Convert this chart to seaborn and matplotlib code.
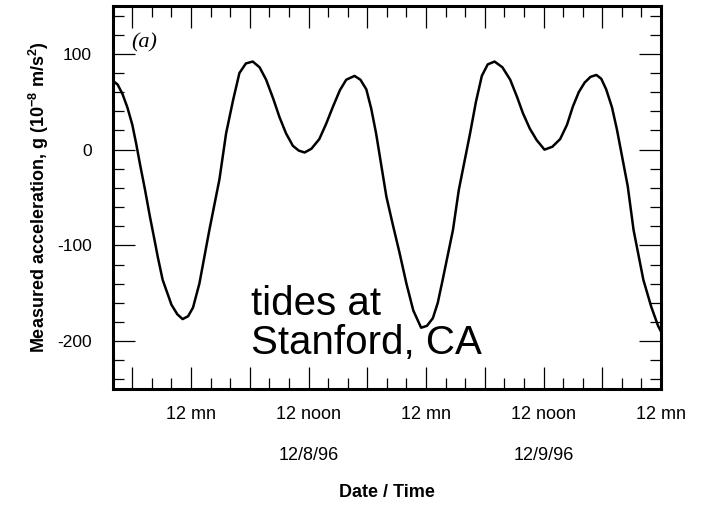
import numpy as np
import pandas as pd
import matplotlib
matplotlib.use('Agg')
import matplotlib.pyplot as plt
import matplotlib.transforms as mtransforms
from matplotlib.ticker import MultipleLocator, FixedLocator
import seaborn as sns

# hours after 12 mn on 12/8/96
hours = [-8.0, -7.5, -7.0, -6.5, -6.0, -5.6, -5.2, -4.7, -4.2, -3.7, -3.4, -2.9, -2.0, -1.4,
         -0.86, -0.3, 0.2, 0.85, 1.87, 2.9, 3.58, 4.3, 4.94, 5.6, 6.3, 7.0,
         7.67, 8.4, 9.03, 9.7, 10.4, 11.0, 11.6, 12.3, 13.1, 13.8, 14.5, 15.2,
         15.85, 16.7, 17.3, 17.9, 18.4, 18.9, 19.95, 20.6, 21.3, 22.0, 22.7, 23.5,
         24.1, 24.7, 25.2, 25.7, 26.75, 27.35, 28.5, 29.1, 29.7, 30.3, 31.0, 31.8,
         32.6, 33.3, 33.9, 34.6, 35.3, 36.1, 36.9, 37.7, 38.4, 39.0, 39.6, 40.2,
         40.8, 41.4, 41.9, 42.4, 43.0, 43.5, 44.6, 45.2, 46.2, 47.0, 47.7, 48.0]

accel = [72, 68, 58, 44, 26, 6, -16, -42, -70, -96, -112, -136, -162, -172,
         -177, -174, -165, -140, -84, -31, 17, 52, 80, 90, 92, 86,
         73, 53, 34, 17, 4, -1, -3, 1, 11, 27, 45, 62,
         73, 77, 73, 63, 43, 17, -49, -78, -108, -140, -168, -186,
         -184, -176, -160, -136, -84, -42, 17, 50, 77, 89, 92, 86,
         73, 55, 38, 22, 10, 0, 3, 11, 26, 45, 60, 70,
         76, 78, 74, 63, 44, 21, -38, -84, -136, -164, -184, -190]

tick_hours = [-6, 0, 6, 12, 18, 24, 30, 36, 42, 48]
tick_names = ['', '12 mn', '', '12 noon', '', '12 mn', '', '12 noon', '', '12 mn']
date_hours = [12, 36]
date_names = ['12/8/96', '12/9/96']

df = pd.DataFrame({'hours': hours, 'accel': accel})

sns.set_style('ticks')
plt.rcParams['font.family'] = ['Liberation Sans', 'DejaVu Sans']
plt.rcParams['mathtext.default'] = 'regular'
plt.rcParams['axes.unicode_minus'] = False
plt.rcParams['text.color'] = 'black'
plt.rcParams['axes.labelcolor'] = 'black'
plt.rcParams['xtick.color'] = 'black'
plt.rcParams['ytick.color'] = 'black'

fig = plt.figure(figsize=(7.18, 5.05), dpi=100)
ax = fig.add_axes([0.157, 0.2297, 0.7636, 0.7584])

sns.lineplot(data=df, x='hours', y='accel', color='black', linewidth=1.8, ax=ax)

ax.set_xlim(-8, 48)
ax.set_ylim(-250, 150)

for side in ['left', 'right', 'top', 'bottom']:
    ax.spines[side].set_visible(True)
    ax.spines[side].set_linewidth(2.2)
    ax.spines[side].set_color('black')

ax.xaxis.set_major_locator(FixedLocator(tick_hours))
ax.set_xticklabels(tick_names)
ax.xaxis.set_minor_locator(MultipleLocator(2))
ax.yaxis.set_major_locator(MultipleLocator(100))
ax.yaxis.set_minor_locator(MultipleLocator(20))

ax.tick_params(which='both', direction='in', top=True, right=True, width=0.9, color='black')
ax.tick_params(which='major', length=16)
ax.tick_params(which='minor', length=8)
ax.tick_params(axis='x', which='major', labelsize=13, pad=12)
ax.tick_params(axis='y', which='major', labelsize=12.5, pad=15)

ax.set_xlabel('Date / Time', fontsize=13, fontweight='bold')
ax.xaxis.label.set_va('center')
ax.xaxis.set_label_coords(0.5, -0.2715)
ax.set_ylabel('Measured acceleration, g (10$^{-8}$ m/s$^{2}$)', fontsize=13, fontweight='bold')
ax.yaxis.label.set_va('center')
ax.yaxis.set_label_coords(-0.134, 0.5)

# date row under the time labels
trans = mtransforms.blended_transform_factory(ax.transData, fig.transFigure)
for h, name in zip(date_hours, date_names):
    ax.text(h, 0.099, name, transform=trans, ha='center', va='center', fontsize=13)

ax.text(0.034, 0.905, '(a)', transform=ax.transAxes, fontsize=16,
        family='Liberation Serif', style='italic', va='center', ha='left')

ax.text(0.253, 0.272, 'tides at\nStanford, CA', transform=ax.transAxes,
        fontsize=29, ha='left', va='top', linespacing=1.05)

fig.savefig('out.png', dpi=100)
